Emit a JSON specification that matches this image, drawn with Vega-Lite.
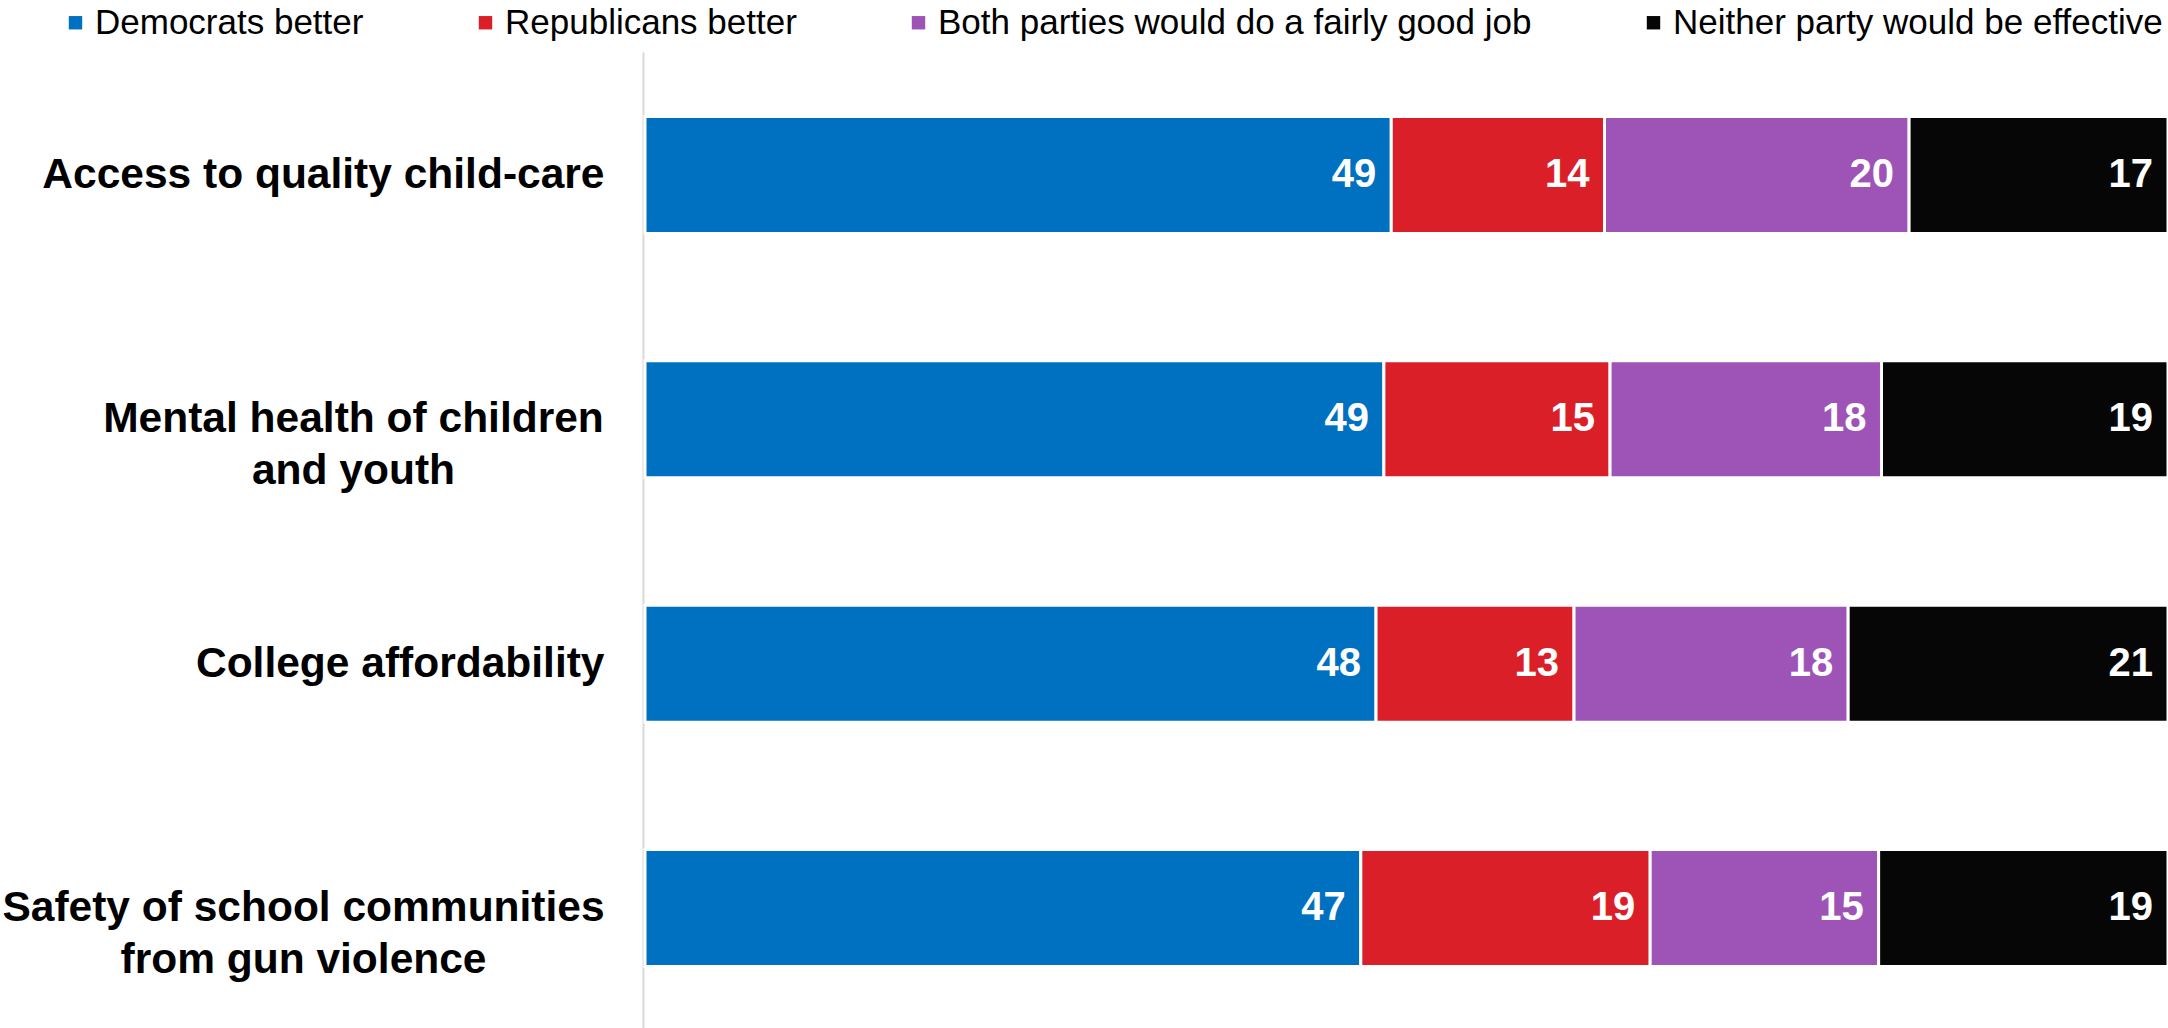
{
  "$schema": "https://vega.github.io/schema/vega-lite/v6.json",
  "width": 1523,
  "height": 979,
  "autosize": "none",
  "padding": {"left": 645, "top": 52, "right": 0, "bottom": 0},
  "background": "white",
  "config": {"view": {"stroke": null}, "font": "Liberation Sans"},
  "data": {
    "values": [
      {"topic": "Access to quality child-care", "party": "Democrats better", "value": 49},
      {"topic": "Access to quality child-care", "party": "Republicans better", "value": 14},
      {"topic": "Access to quality child-care", "party": "Both parties would do a fairly good job", "value": 20},
      {"topic": "Access to quality child-care", "party": "Neither party would be effective", "value": 17},
      {"topic": "Mental health of children and youth", "party": "Democrats better", "value": 49},
      {"topic": "Mental health of children and youth", "party": "Republicans better", "value": 15},
      {"topic": "Mental health of children and youth", "party": "Both parties would do a fairly good job", "value": 18},
      {"topic": "Mental health of children and youth", "party": "Neither party would be effective", "value": 19},
      {"topic": "College affordability", "party": "Democrats better", "value": 48},
      {"topic": "College affordability", "party": "Republicans better", "value": 13},
      {"topic": "College affordability", "party": "Both parties would do a fairly good job", "value": 18},
      {"topic": "College affordability", "party": "Neither party would be effective", "value": 21},
      {"topic": "Safety of school communities from gun violence", "party": "Democrats better", "value": 47},
      {"topic": "Safety of school communities from gun violence", "party": "Republicans better", "value": 19},
      {"topic": "Safety of school communities from gun violence", "party": "Both parties would do a fairly good job", "value": 15},
      {"topic": "Safety of school communities from gun violence", "party": "Neither party would be effective", "value": 19}
    ]
  },
  "transform": [
    {"calculate": "indexof(['Democrats better','Republicans better','Both parties would do a fairly good job','Neither party would be effective'], datum.party)", "as": "rank"},
    {"stack": "value", "groupby": ["topic"], "sort": [{"field": "rank", "order": "ascending"}], "offset": "normalize", "as": ["x0", "x1"]}
  ],
  "encoding": {
    "y": {
      "field": "topic",
      "type": "nominal",
      "sort": ["Access to quality child-care", "Mental health of children and youth", "College affordability", "Safety of school communities from gun violence"],
      "scale": {"paddingInner": 0.521, "paddingOuter": 0.264},
      "axis": {
        "title": null,
        "offset": 2,
        "domain": true,
        "domainColor": "#D9D9D9",
        "domainWidth": 2,
        "ticks": false,
        "grid": false,
        "labelFont": "Liberation Sans",
        "labelFontWeight": "bold",
        "labelFontSize": 42.5,
        "labelColor": "#000000",
        "labelLineHeight": 52,
        "labelLimit": 1000,
        "labelBaseline": "middle",
        "labelExpr": "datum.value == 'Mental health of children and youth' ? ['Mental health of children', 'and youth'] : datum.value == 'Safety of school communities from gun violence' ? ['Safety of school communities', 'from gun violence'] : datum.value",
        "labelAlign": {"condition": {"test": "datum.value == 'Mental health of children and youth' || datum.value == 'Safety of school communities from gun violence'", "value": "center"}, "value": "right"},
        "labelPadding": {"condition": [{"test": "datum.value == 'Mental health of children and youth'", "value": 290}, {"test": "datum.value == 'Safety of school communities from gun violence'", "value": 340}], "value": 39}
      }
    }
  },
  "layer": [
    {
      "mark": {"type": "bar", "stroke": "white", "strokeWidth": 3},
      "encoding": {
        "x": {"field": "x0", "type": "quantitative", "scale": {"domain": [0, 1], "nice": false}, "axis": null},
        "x2": {"field": "x1"},
        "color": {
          "field": "party",
          "type": "nominal",
          "scale": {
            "domain": ["Democrats better", "Republicans better", "Both parties would do a fairly good job", "Neither party would be effective"],
            "range": ["#0070C0", "#DA1F28", "#9E54B7", "#060606"]
          },
          "legend": {
            "title": null,
            "orient": "none",
            "legendX": -587,
            "legendY": -47,
            "direction": "horizontal",
            "columns": 4,
            "symbolType": "square",
            "symbolSize": 180,
            "symbolStrokeWidth": 0,
            "labelFont": "Liberation Sans",
            "labelFontSize": 35,
            "labelColor": "#000000",
            "labelOffset": 2,
            "columnPadding": 104,
            "labelLimit": 1000,
            "padding": 0
          }
        }
      }
    },
    {
      "mark": {"type": "text", "align": "right", "baseline": "middle", "dx": -15, "fill": "white", "font": "Liberation Sans", "fontWeight": "bold", "fontSize": 40},
      "encoding": {
        "x": {"field": "x1", "type": "quantitative", "scale": {"domain": [0, 1], "nice": false}, "axis": null},
        "text": {"field": "value", "type": "quantitative"}
      }
    }
  ]
}
